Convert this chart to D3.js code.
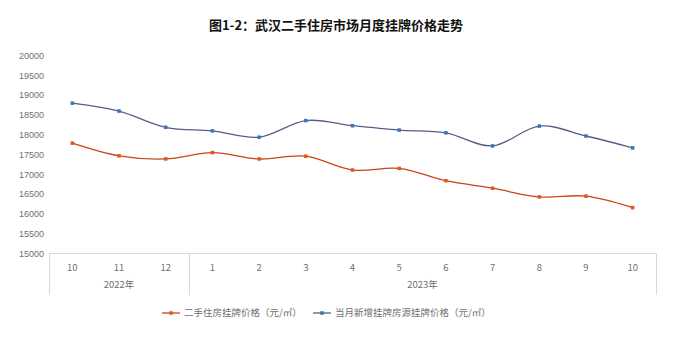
<!DOCTYPE html>
<html><head><meta charset="utf-8">
<script src="https://cdn.jsdelivr.net/npm/d3@7"></script>
<style>body{margin:0;background:#fff;}svg{display:block;font-family:"Microsoft YaHei","Noto Sans CJK SC",sans-serif;}</style>
</head><body>
<svg id="c" width="673" height="338"></svg>
<script>
const months = ["10","11","12","1","2","3","4","5","6","7","8","9","10"];
const years = [{label:"2022年", start:0, end:3},{label:"2023年", start:3, end:13}];
const secondHand = [17790,17470,17390,17550,17390,17460,17110,17150,16840,16650,16430,16450,16160];
const newListing = [18800,18600,18190,18100,17940,18360,18230,18120,18050,17720,18220,17970,17670];
const yTicks = [15000,15500,16000,16500,17000,17500,18000,18500,19000,19500,20000];
const seriesNames = ["二手住房挂牌价格（元/㎡）","当月新增挂牌房源挂牌价格（元/㎡）"];

(function(){
const svg = d3.select("#c");
const mL = 49, mR = 656, mT = 55.7, mB = 253.5;
const x = d3.scaleBand().domain(d3.range(months.length)).range([mL,mR]);
const y = d3.scaleLinear().domain([15000,20000]).range([mB,mT]);

svg.append("text").attr("x",336).attr("y",30).attr("text-anchor","middle")
  .attr("font-size",13).attr("font-weight","bold").attr("fill","#111")
  .text("图1-2：武汉二手住房市场月度挂牌价格走势");

svg.append("g").selectAll("text").data(yTicks).join("text")
  .attr("x",44).attr("y",d=>y(d)).attr("dy","0.35em").attr("text-anchor","end")
  .attr("font-size",9).attr("fill","#6f6f6f").attr("font-family","Liberation Sans, Arial, sans-serif").text(d=>d);

const ax = svg.append("g");
ax.append("line").attr("x1",mL).attr("x2",mR).attr("y1",mB).attr("y2",mB).attr("stroke","#d9d9d9");
const seps = [0,3,13].map(i=> i===13 ? mR : x(i));
ax.selectAll("line.sep").data(seps).join("line").attr("class","sep")
  .attr("x1",d=>Math.round(d)+0.5).attr("x2",d=>Math.round(d)+0.5).attr("y1",mB).attr("y2",295).attr("stroke","#d9d9d9");
ax.selectAll("text.m").data(months).join("text").attr("class","m")
  .attr("x",(d,i)=>x(i)+x.bandwidth()/2).attr("y",268).attr("dy","0.35em").attr("text-anchor","middle")
  .attr("font-size",9.5).attr("fill","#6f6f6f").text(d=>d);
ax.selectAll("text.yr").data(years).join("text").attr("class","yr")
  .attr("x",d=>((d.start===0?mL:x(d.start)) + (d.end===13?mR:x(d.end)))/2).attr("y",285).attr("dy","0.35em")
  .attr("text-anchor","middle").attr("font-size",9.5).attr("fill","#6f6f6f").text(d=>d.label);

const cx = i => x(i)+x.bandwidth()/2;
const line = d3.line().x((d,i)=>cx(i)).y(d=>y(d)).curve(d3.curveCardinal.tension(0));
const series = [
  {data:secondHand, line:"#c9441b", marker:"#e0561a"},
  {data:newListing, line:"#5a5a8e", marker:"#3d72b8"}
];
series.forEach(s=>{
  svg.append("path").attr("d",line(s.data)).attr("fill","none").attr("stroke",s.line).attr("stroke-width",1.3);
  svg.append("g").selectAll("rect").data(s.data).join("rect")
    .attr("x",(d,i)=>cx(i)-1.75).attr("y",d=>y(d)-1.75).attr("width",3.5).attr("height",3.5).attr("fill",s.marker);
});

const lg = svg.append("g");
const items = [{x:162, name:seriesNames[0], s:series[0]},{x:313, name:seriesNames[1], s:series[1]}];
items.forEach(it=>{
  lg.append("line").attr("x1",it.x).attr("x2",it.x+18).attr("y1",313).attr("y2",313).attr("stroke",it.s.line).attr("stroke-width",1.3);
  lg.append("rect").attr("x",it.x+7.25).attr("y",311.25).attr("width",3.5).attr("height",3.5).attr("fill",it.s.marker);
  lg.append("text").attr("x",it.x+22).attr("y",313).attr("dy","0.35em").attr("font-size",9.5).attr("fill","#6f6f6f").text(it.name);
});
})();
</script>
</body></html>
